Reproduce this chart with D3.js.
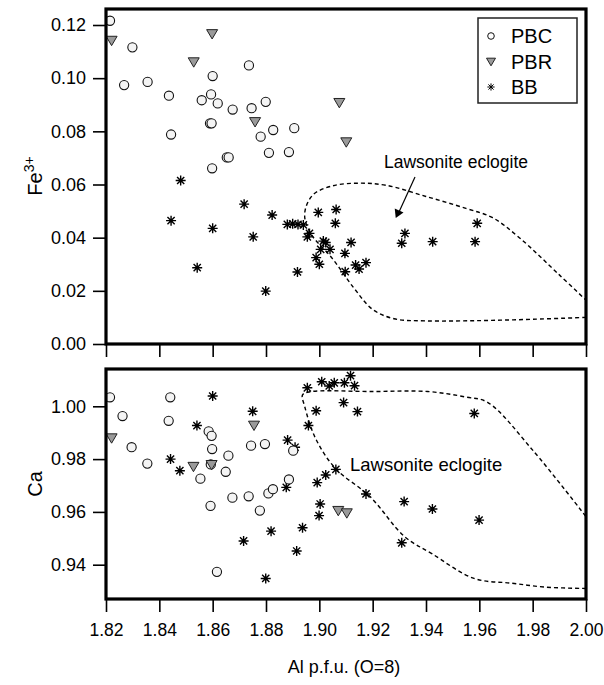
<html>
<head>
	<meta http-equiv="Content-Type" content="text/html; charset=utf-8" />
	<script src="https://cdn.jsdelivr.net/npm/d3@7/dist/d3.min.js" charset="utf-8"></script>
	<style type="text/css">
	body {
		background-color: #FFFFFF;
		margin: 0;
	}
	text {
		font-family: "Liberation Sans", Arial, Helvetica, sans-serif;
		fill: #000;
	}
	</style>
</head>
<body>

	<svg width="604" height="685" version="1.1" xmlns="http://www.w3.org/2000/svg"></svg>

	<script type="text/javascript">
		/* ---- data: [Al p.f.u., value] ---- */
		var pbcFe = [
			[1.8215,0.1216],[1.8299,0.1116],[1.8268,0.0974],[1.8356,0.0986],[1.8436,0.0934],
			[1.8600,0.1008],[1.8736,0.1048],[1.8594,0.0939],[1.8559,0.0917],[1.8619,0.0905],
			[1.8675,0.0882],[1.8746,0.0887],[1.8799,0.0911],[1.8590,0.0830],[1.8596,0.0830],
			[1.8444,0.0788],[1.8780,0.0780],[1.8827,0.0805],[1.8906,0.0812],[1.8811,0.0719],
			[1.8886,0.0722],[1.8653,0.0702],[1.8660,0.0702],[1.8598,0.0661]
		];
		var pbrFe = [
			[1.8221,0.1140],[1.8598,0.1165],[1.8529,0.1059],[1.8759,0.0834],[1.9075,0.0906],[1.9101,0.0758]
		];
		var bbFe = [
			[1.8480,0.0615],[1.8444,0.0464],[1.8600,0.0435],[1.8542,0.0287],[1.8718,0.0526],
			[1.8752,0.0403],[1.8823,0.0485],[1.8799,0.0199],[1.8880,0.0450],[1.8900,0.0452],
			[1.8920,0.0450],[1.8940,0.0448],[1.8918,0.0271],[1.8996,0.0495],[1.9063,0.0506],
			[1.9060,0.0454],[1.8963,0.0416],[1.8955,0.0403],[1.9015,0.0387],[1.9024,0.0382],
			[1.9119,0.0382],[1.9005,0.0356],[1.9040,0.0356],[1.8988,0.0325],[1.9000,0.0300],
			[1.9096,0.0341],[1.9136,0.0297],[1.9149,0.0282],[1.9175,0.0306],[1.9097,0.0272],
			[1.9321,0.0416],[1.9309,0.0379],[1.9425,0.0385],[1.9584,0.0385],[1.9592,0.0454]
		];

		var pbcCa = [
			[1.8215,1.0034],[1.8441,1.0034],[1.8262,0.9963],[1.8435,0.9945],[1.8585,0.9905],
			[1.8596,0.9888],[1.8296,0.9845],[1.8598,0.9838],[1.8659,0.9813],[1.8744,0.9851],
			[1.8796,0.9857],[1.8355,0.9783],[1.8593,0.9780],[1.8554,0.9726],[1.8649,0.9752],
			[1.8902,0.9832],[1.8592,0.9623],[1.8674,0.9654],[1.8735,0.9659],[1.8809,0.9670],
			[1.8826,0.9686],[1.8777,0.9605],[1.8886,0.9723],[1.8616,0.9373]
		];
		var pbrCa = [
			[1.8221,0.9878],[1.8528,0.9770],[1.8755,0.9926],[1.8596,0.9777],[1.9071,0.9603],[1.9103,0.9594]
		];
		var bbCa = [
			[1.8600,1.0039],[1.8750,0.9981],[1.8541,0.9927],[1.8442,0.9800],[1.8477,0.9756],
			[1.8881,0.9872],[1.8909,0.9845],[1.8876,0.9693],[1.8819,0.9527],[1.8716,0.9490],
			[1.8915,0.9452],[1.8799,0.9348],[1.8937,0.9540],[1.8955,1.0070],[1.9009,1.0093],
			[1.9037,1.0077],[1.9056,1.0089],[1.9094,1.0089],[1.9117,1.0116],[1.9132,1.0078],
			[1.9091,1.0014],[1.9143,0.9980],[1.8988,0.9983],[1.8959,0.9927],[1.9062,0.9761],
			[1.9024,0.9740],[1.8992,0.9711],[1.9175,0.9668],[1.9003,0.9630],[1.8999,0.9586],
			[1.9318,0.9639],[1.9424,0.9611],[1.9599,0.9569],[1.9309,0.9483],[1.9581,0.9973]
		];

		/* lawsonite eclogite field outlines */
		var fieldFe = [
			[2.000,0.0100],[1.980,0.0093],[1.960,0.0088],[1.940,0.0087],[1.928,0.0095],
			[1.920,0.0130],[1.913,0.0210],[1.905,0.0320],[1.8965,0.0420],[1.8945,0.0490],
			[1.8975,0.0560],[1.905,0.0595],[1.915,0.0605],[1.925,0.0597],[1.940,0.0555],
			[1.955,0.0510],[1.965,0.0475],[1.975,0.0400],[1.990,0.0260],[2.000,0.0165]
		];
		var fieldCa = [
			[2.000,0.9310],[1.985,0.9315],[1.972,0.9330],[1.958,0.9348],[1.942,0.9443],
			[1.932,0.9506],[1.919,0.9658],[1.906,0.9765],[1.8985,0.9880],[1.8945,1.0000],
			[1.8937,1.0043],[1.8965,1.0055],[1.920,1.0056],[1.9406,1.0056],[1.955,1.0035],
			[1.9631,1.0015],[1.980,0.9834],[2.000,0.9582]
		];

		var xTicks   = [1.82,1.84,1.86,1.88,1.90,1.92,1.94,1.96,1.98,2.00];
		var feTicks  = [0.00,0.02,0.04,0.06,0.08,0.10,0.12];
		var caTicks  = [0.94,0.96,0.98,1.00];
		var seriesNames = ["PBC","PBR","BB"];

		/* ---- layout ---- */
		var v_SVG = d3.select("svg");
		var v_Left = 106, v_Right = 586;
		var v_Top1 = 9,   v_Bot1 = 344;
		var v_Top2 = 369, v_Bot2 = 599;

		var x = d3.scaleLinear().domain([1.82, 2.00]).range([v_Left, v_Right]);
		var yFe = d3.scaleLinear().domain([0, 0.12]).range([344, 25]);
		var yCa = d3.scaleLinear().domain([0.94, 1.00]).range([564.7, 406.3]);

		/* asterisk: + and x superimposed */
		function starPath(r)
		{
			var d = r * 0.72;
			return "M0," + (-r) + "L0," + r
			     + "M" + (-r) + ",0L" + r + ",0"
			     + "M" + (-d) + "," + (-d) + "L" + d + "," + d
			     + "M" + (-d) + "," + d + "L" + d + "," + (-d);
		}

		function triPath(w)
		{
			var h = w * 0.85;
			return "M" + (-w / 2) + "," + (-h / 2) + "L" + (w / 2) + "," + (-h / 2) + "L0," + (h / 2) + "Z";
		}

		function drawMarks(g, kind, data, xs, ys)
		{
			var sel = g.selectAll("path." + kind + "m")
			.data(data)
			.enter()
			.append("path")
			.attr("class", kind + "m")
			.attr("transform", function(d) { return "translate(" + xs(d[0]) + "," + ys(d[1]) + ")"; });

			if ( kind == "c" )
			{
				sel.attr("d", d3.symbol().type(d3.symbolCircle).size(Math.PI * 4.6 * 4.6))
				.attr("fill", "#F4F4F4").attr("stroke", "#111").attr("stroke-width", 1.1);
			}
			else if ( kind == "t" )
			{
				sel.attr("d", triPath(11))
				.attr("fill", "#9A9A9A").attr("stroke", "#222").attr("stroke-width", 1);
			}
			else
			{
				sel.attr("d", starPath(5))
				.attr("fill", "none").attr("stroke", "#000").attr("stroke-width", 1.4);
			}
		}

		function drawPanel(top, bot, ys, ticks, fmtLabel, pbc, pbr, bb, field, showX)
		{
			var g = v_SVG.append("g");

			/* clip */
			var clipId = "clip" + top;
			v_SVG.append("clipPath").attr("id", clipId)
			.append("rect").attr("x", v_Left).attr("y", top)
			.attr("width", v_Right - v_Left).attr("height", bot - top);

			var inner = g.append("g").attr("clip-path", "url(#" + clipId + ")");

			/* field outline */
			inner.append("path")
			.attr("d", d3.line().x(function(d) { return x(d[0]); }).y(function(d) { return ys(d[1]); })
				.curve(d3.curveCatmullRom.alpha(0.5))(field))
			.attr("fill", "none")
			.attr("stroke", "#000")
			.attr("stroke-width", 1.4)
			.attr("stroke-dasharray", "4,3");

			drawMarks(inner, "s", bb, x, ys);
			drawMarks(inner, "c", pbc, x, ys);
			drawMarks(inner, "t", pbr, x, ys);

			/* y axis */
			var ya = g.append("g")
			.attr("transform", "translate(" + v_Left + ",0)")
			.call(d3.axisLeft(ys).tickValues(ticks).tickSize(13).tickPadding(7).tickFormat(fmtLabel));
			ya.select(".domain").remove();
			ya.selectAll("line").attr("stroke", "#000").attr("stroke-width", 1.6);
			ya.selectAll("text").attr("font-size", 18).attr("font-family", "'Liberation Sans', Arial, sans-serif");

			/* x axis */
			var xa = g.append("g")
			.attr("transform", "translate(0," + bot + ")")
			.call(d3.axisBottom(x).tickValues(xTicks).tickSize(13).tickPadding(12).tickFormat(d3.format(".2f")));
			xa.select(".domain").remove();
			xa.selectAll("line").attr("stroke", "#000").attr("stroke-width", 1.6);
			xa.selectAll("text").attr("font-size", 17.5).attr("font-family", "'Liberation Sans', Arial, sans-serif");
			if ( !showX )
			{
				xa.selectAll("text").remove();
			}

			/* frame */
			g.append("rect")
			.attr("x", v_Left).attr("y", top)
			.attr("width", v_Right - v_Left).attr("height", bot - top)
			.attr("fill", "none").attr("stroke", "#000").attr("stroke-width", 3.2);

			return g;
		}

		var gTop = drawPanel(v_Top1, v_Bot1, yFe, feTicks, d3.format(".2f"), pbcFe, pbrFe, bbFe, fieldFe, false);
		var gBot = drawPanel(v_Top2, v_Bot2, yCa, caTicks, d3.format(".2f"), pbcCa, pbrCa, bbCa, fieldCa, true);

		/* axis titles */
		var feLabel = v_SVG.append("text")
		.attr("transform", "translate(42,176) rotate(-90)")
		.attr("text-anchor", "middle")
		.attr("font-size", 20);
		feLabel.append("tspan").text("Fe");
		feLabel.append("tspan").attr("font-size", 14).attr("dy", -8).text("3+");

		v_SVG.append("text")
		.attr("transform", "translate(42,484) rotate(-90)")
		.attr("text-anchor", "middle")
		.attr("font-size", 20)
		.text("Ca");

		v_SVG.append("text")
		.attr("x", (v_Left + v_Right) / 2 - 2)
		.attr("y", 673)
		.attr("text-anchor", "middle")
		.attr("font-size", 18)
		.text("Al p.f.u. (O=8)");

		/* field labels */
		v_SVG.append("text")
		.attr("x", 384).attr("y", 168)
		.attr("font-size", 17.5)
		.text("Lawsonite eclogite");

		v_SVG.append("line")
		.attr("x1", 415).attr("y1", 177)
		.attr("x2", 399).attr("y2", 212)
		.attr("stroke", "#000").attr("stroke-width", 1.2);
		v_SVG.append("path")
		.attr("d", d3.symbol().type(d3.symbolTriangle).size(40)())
		.attr("transform", "translate(398,213) rotate(" + (180 + 24) + ")")
		.attr("fill", "#000");

		v_SVG.append("text")
		.attr("x", 350).attr("y", 471)
		.attr("font-size", 18.5)
		.text("Lawsonite eclogite");

		/* legend */
		var lg = v_SVG.append("g");
		lg.append("rect")
		.attr("x", 478).attr("y", 18).attr("width", 99).attr("height", 85)
		.attr("fill", "#fff").attr("stroke", "#222").attr("stroke-width", 1.5);

		var legY = [36, 62, 87];
		seriesNames.forEach(function(name, i)
		{
			var sy = legY[i];
			var m = lg.append("path").attr("transform", "translate(491," + sy + ")");
			if ( i == 0 )
			{
				m.attr("d", d3.symbol().type(d3.symbolCircle).size(Math.PI * 3.3 * 3.3))
				.attr("fill", "#fff").attr("stroke", "#111").attr("stroke-width", 1);
			}
			else if ( i == 1 )
			{
				m.attr("d", triPath(9)).attr("fill", "#9A9A9A").attr("stroke", "#222").attr("stroke-width", 1);
			}
			else
			{
				m.attr("d", starPath(3.6)).attr("fill", "none").attr("stroke", "#000").attr("stroke-width", 1);
			}
			lg.append("text")
			.attr("x", 511).attr("y", sy + 7)
			.attr("font-size", 20)
			.text(name);
		});
	</script>

</body>
</html>
